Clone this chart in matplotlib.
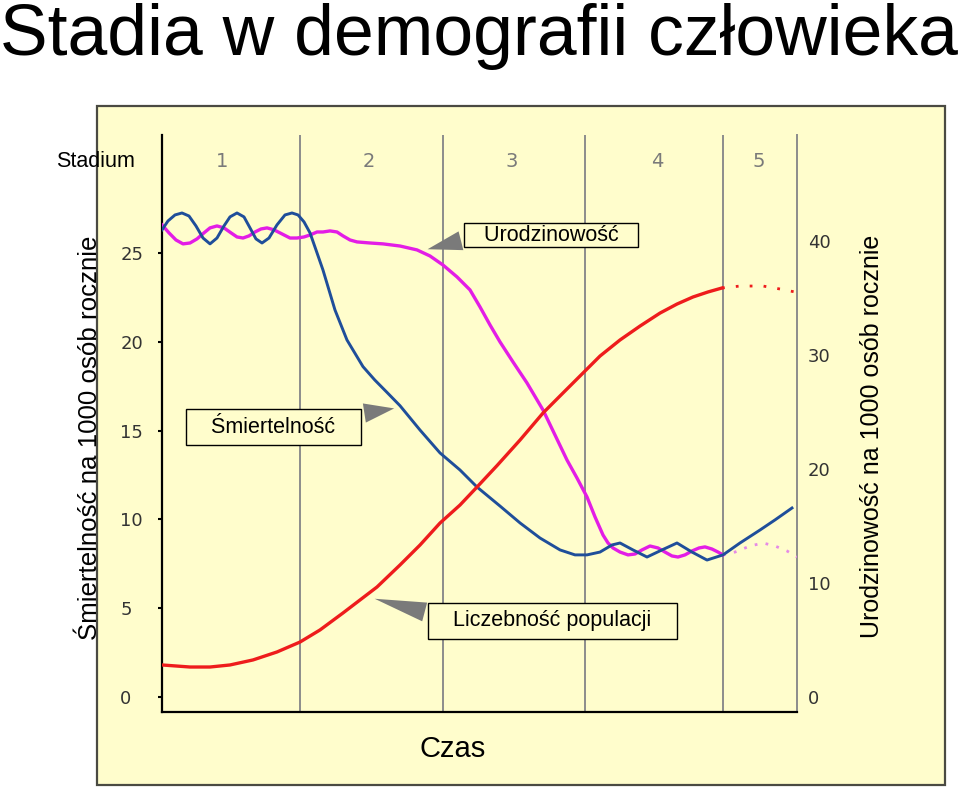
import numpy as np
import matplotlib
matplotlib.use('Agg')
import matplotlib.pyplot as plt
from matplotlib.patches import Rectangle

plt.rcParams['font.family']=['Liberation Sans','DejaVu Sans']

# time runs 0..100, stages split by grey lines
stage_bounds=[21.73,44.25,66.61,88.35]
stage_names=['1','2','3','4','5']
stage_label_x=[9.5,32.6,55.1,78.0,94.0]

left_ticks=[0,5,10,15,20,25]
right_ticks=[0,10,20,30,40]

# death rate per 1000 (left scale)
death_t=[0,0.94,2.05,3.15,4.25,5.35,6.46,7.56,8.66,9.76,10.71,11.81,12.91,13.86,14.8,15.75,16.85,18.11,19.37,20.47,
         21.42,22.36,23.31,24.25,25.35,27.24,29.13,31.65,33.5,35.43,37.48,40.63,43.78,46.93,49.61,53.23,56.38,59.53,62.68,65.04,
         66.93,68.98,70.87,72.13,74.17,76.38,78.74,81.1,83.46,85.83,88.35,91.02,94.17,96.54,99.21]
death_v=[26.3,26.8,27.14,27.25,27.08,26.52,25.84,25.51,25.84,26.52,27.03,27.25,27.03,26.41,25.79,25.56,25.84,26.58,27.14,27.25,
         27.14,26.75,26.13,25.17,24.04,21.79,20.1,18.6,17.85,17.15,16.4,15.03,13.74,12.78,11.82,10.75,9.8,8.95,8.28,8.0,
         8.0,8.16,8.56,8.67,8.28,7.88,8.28,8.67,8.16,7.71,8.0,8.67,9.4,9.97,10.64]

# birth rate per 1000 (left scale)
birth_t=[0,1.1,2.2,3.31,4.41,5.51,6.61,7.56,8.66,9.76,10.87,11.81,12.76,13.7,14.65,15.59,16.54,17.64,18.9,20.16,
         21.26,22.36,23.31,24.41,25.35,26.46,27.56,28.5,29.61,30.71,32.76,34.8,37.48,40.16,42.2,44.25,46.46,48.5,50.08,51.65,
         53.23,55.28,57.48,60.0,61.89,63.78,65.35,66.93,68.19,69.45,70.24,71.02,72.13,73.39,74.49,75.59,76.85,78.11,79.21,80.31,
         81.26,82.36,83.46,84.57,85.51,86.61,87.56,88.35]
birth_v=[26.58,26.13,25.73,25.51,25.56,25.79,26.13,26.41,26.52,26.41,26.13,25.9,25.84,25.96,26.18,26.35,26.41,26.3,26.07,25.84,
         25.84,25.9,26.01,26.18,26.18,26.24,26.18,25.96,25.73,25.62,25.56,25.51,25.39,25.17,24.83,24.32,23.65,22.92,21.96,20.95,
         19.99,18.86,17.68,16.16,14.75,13.34,12.33,11.26,10.14,9.12,8.67,8.39,8.16,8.0,8.05,8.28,8.5,8.39,8.16,7.94,
         7.88,8.0,8.22,8.39,8.45,8.33,8.16,8.0]
birth_dot_t=[88.35,90.24,92.6,94.65,96.54,98.43,100]
birth_dot_v=[8.0,8.16,8.5,8.67,8.5,8.22,7.88]

# population (right scale)
pop_t=[0,4.41,7.56,10.71,14.33,18.11,21.73,24.88,28.5,31.18,33.86,37.48,40.63,43.78,46.93,49.61,52.76,56.38,60.0,63.15,
       66.3,68.98,72.13,75.28,78.43,81.1,83.62,85.98,88.19]
pop_v=[2.81,2.63,2.63,2.81,3.25,3.95,4.82,5.88,7.37,8.51,9.65,11.58,13.33,15.26,16.84,18.42,20.3,22.54,24.91,26.67,
       28.42,29.91,31.32,32.54,33.68,34.47,35.09,35.53,35.88]
pop_dot_t=[88.19,91.02,94.65,97.32,99.69]
pop_dot_v=[35.88,36.05,36.05,35.79,35.53]

bg='#fffdcc'
fig=plt.figure(figsize=(9.6,7.88),dpi=100)
fig.add_artist(Rectangle((0.101,0.004),0.883,0.861,transform=fig.transFigure,
                         fc=bg,ec='#4a4a42',lw=1.6,zorder=0))

ax=fig.add_axes([0.16875,0.09645,0.66146,0.73223])
ax.patch.set_visible(False)
ax.set_xlim(0,100)
ax.set_ylim(-0.845,31.64)
ax2=ax.twinx()
ax2.set_ylim(-1.316,49.3)

ax.spines['top'].set_visible(False)
ax.spines['left'].set_linewidth(1.6)
ax.spines['bottom'].set_linewidth(1.6)
ax.spines['right'].set_color('#8c8c8c')
ax.spines['right'].set_linewidth(1.4)
for s in ax2.spines.values():
    s.set_visible(False)

for b in stage_bounds:
    ax.axvline(b,color='#8c8c8c',lw=1.4,zorder=1)
for x,n in zip(stage_label_x,stage_names):
    ax.text(x,30.12,n,ha='center',va='center',fontsize=14,color='#7a7a7a',family='DejaVu Sans')
ax.text(-10.4,30.12,'Stadium',ha='center',va='center',fontsize=15.5,clip_on=False)

ax.plot(birth_t,birth_v,color='#e31de6',lw=2.4,zorder=3)
ax.plot(birth_dot_t,birth_dot_v,color='#e58ae6',lw=2,ls=(0,(1,3)),zorder=3)
ax.plot(death_t,death_v,color='#1f4e9a',lw=2.1,zorder=4)
ax2.plot(pop_t,pop_v,color='#ee1c1c',lw=2.4)
ax2.plot(pop_dot_t,pop_dot_v,color='#ee1c1c',lw=2,ls=(0,(1,4)))

ax.set_xticks([])
ax.set_yticks(left_ticks)
ax.tick_params(axis='y',length=3,width=1.5,pad=27,labelsize=13,labelcolor='#333333')
for lab in ax.get_yticklabels():
    lab.set_ha('left')
    lab.set_family('DejaVu Sans')
ax2.set_yticks(right_ticks)
ax2.tick_params(axis='y',length=0,pad=8,labelsize=13,labelcolor='#333333')
for lab in ax2.get_yticklabels():
    lab.set_family('DejaVu Sans')

box=dict(boxstyle='square,pad=0.08',fc=bg,ec='black',lw=1)
wedge=dict(arrowstyle='wedge,tail_width=0.9',fc='#7a7a7a',ec='none')
ax.annotate('   Urodzinowość   ',xy=(41.4,25.17),xytext=(61.3,26.0),ha='center',va='center',fontsize=15.5,
            bbox=box,arrowprops=dict(wedge,relpos=(0.1,0.5)),zorder=6)
box2=dict(boxstyle='square,pad=0.35',fc=bg,ec='black',lw=1)
ax.annotate('   Śmiertelność   ',xy=(37.0,16.27),xytext=(17.56,15.2),ha='center',va='center',fontsize=15.5,
            bbox=box2,arrowprops=dict(wedge),zorder=6)
ax.annotate('   Liczebność populacji   ',xy=(33.07,5.57),xytext=(61.5,4.28),ha='center',va='center',fontsize=15.5,
            bbox=box2,arrowprops=dict(wedge,relpos=(0.1,0.5)),zorder=6)

fig.text(0.499,1-55/788,'Stadia w demografii człowieka',ha='center',va='baseline',fontsize=51.5)
fig.text(90/960,1-438/788,'Śmiertelność na 1000 osób rocznie',rotation=90,ha='center',va='center',fontsize=18.6)
fig.text(872/960,1-436/788,'Urodzinowość na 1000 osób rocznie',rotation=90,ha='center',va='center',fontsize=18)
fig.text(453/960,1-757/788,'Czas',ha='center',va='baseline',fontsize=21)

fig.savefig('out.png',dpi=100)
